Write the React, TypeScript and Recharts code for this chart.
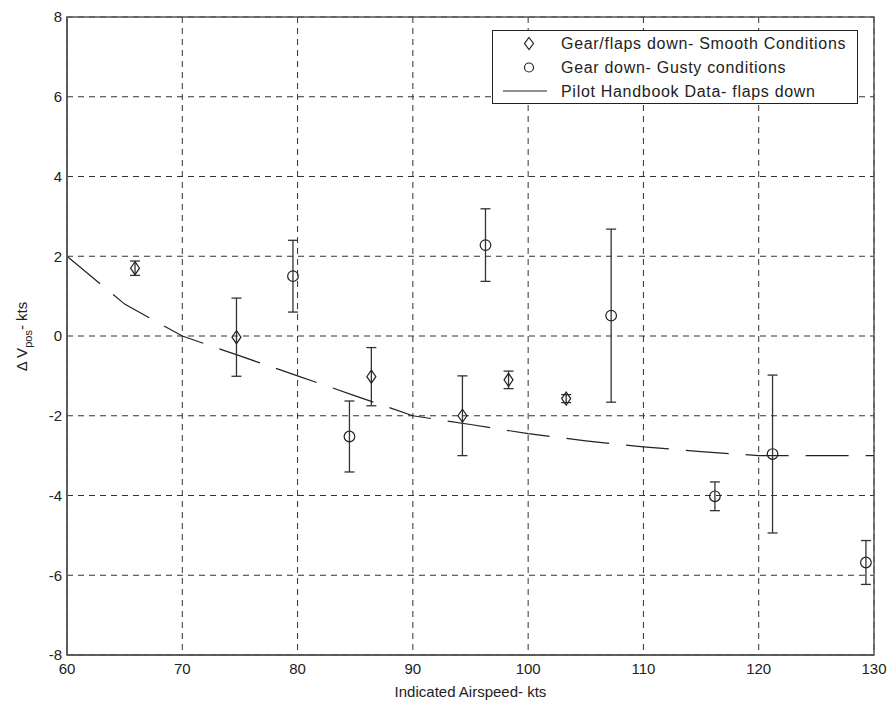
import React from "react";
import {
  ComposedChart,
  Scatter,
  Line,
  XAxis,
  YAxis,
  CartesianGrid,
  ErrorBar,
  Legend,
  ReferenceArea,
} from "recharts";

const xTicks = [60, 70, 80, 90, 100, 110, 120, 130];
const yTicks = [-8, -6, -4, -2, 0, 2, 4, 6, 8];

// gear/flaps down, smooth conditions (diamonds)
const smoothSpeed = [65.9, 74.7, 86.4, 94.3, 98.3, 103.3];
const smoothDv = [1.7, -0.03, -1.02, -2.0, -1.1, -1.57];
const smoothErr = [0.18, 0.98, 0.73, 1.0, 0.22, 0.1];

// gear down, gusty conditions (circles)
const gustySpeed = [79.6, 84.5, 96.3, 107.2, 116.2, 121.2, 129.3];
const gustyDv = [1.5, -2.52, 2.28, 0.51, -4.02, -2.96, -5.68];
const gustyErr = [0.9, 0.89, 0.91, 2.17, 0.36, 1.98, 0.55];

// pilot handbook, flaps down
const handbookSpeed = [60, 65, 70, 75, 80, 85, 90, 95, 100, 105, 110, 115, 120, 125, 130];
const handbookDv = [2, 0.8, 0, -0.5, -1, -1.5, -2, -2.22, -2.45, -2.63, -2.78, -2.9, -3, -3, -3];

const legendLabels = [
  "Gear/flaps down- Smooth Conditions",
  "Gear down- Gusty conditions",
  "Pilot Handbook Data- flaps down",
];

const FONT = "'Liberation Sans', Arial, Helvetica, sans-serif";
const INK = "#222";

const smoothData = smoothSpeed.map((x, i) => ({ x, y: smoothDv[i], err: smoothErr[i] }));
const gustyData = gustySpeed.map((x, i) => ({ x, y: gustyDv[i], err: gustyErr[i] }));
const handbookData = handbookSpeed.map((x, i) => ({ x, y: handbookDv[i] }));

const Diamond = (props: any) => {
  const { cx, cy } = props;
  return (
    <path
      d={`M${cx},${cy - 6.5} L${cx + 4.5},${cy} L${cx},${cy + 6.5} L${cx - 4.5},${cy} Z`}
      fill="none"
      stroke={INK}
      strokeWidth={1.2}
    />
  );
};

const Ring = (props: any) => {
  const { cx, cy } = props;
  return <circle cx={cx} cy={cy} r={5.3} fill="none" stroke={INK} strokeWidth={1.2} />;
};

function renderLegend() {
  const rows = [43.5, 67.5, 91];
  return (
    <svg width={366} height={74} style={{ display: "block" }}>
      <rect x={0.5} y={0.5} width={365} height={73} fill="#fff" stroke={INK} strokeWidth={1} />
      <path
        d={`M37,${rows[0] - 30 - 6} L41.5,${rows[0] - 30} L37,${rows[0] - 30 + 6} L32.5,${rows[0] - 30} Z`}
        fill="none"
        stroke={INK}
        strokeWidth={1.2}
      />
      <circle cx={37} cy={rows[1] - 30} r={4.5} fill="none" stroke={INK} strokeWidth={1.2} />
      <line x1={11} x2={55} y1={rows[2] - 30} y2={rows[2] - 30} stroke={INK} strokeWidth={1.2} />
      {legendLabels.map((t, i) => (
        <text
          key={t}
          x={69}
          y={rows[i] - 30 + 5.5}
          fontSize={16}
          letterSpacing={0.7}
          fontFamily={FONT}
          fill={INK}
        >
          {t}
        </text>
      ))}
    </svg>
  );
}

const YLabel = () => (
  <text
    transform="translate(27, 336.5) rotate(-90)"
    textAnchor="middle"
    fontSize={15}
    fontFamily={FONT}
    fill={INK}
  >
    Δ V
    <tspan dy={5} fontSize={11}>
      pos
    </tspan>
    <tspan dy={-5}>- kts</tspan>
  </text>
);

const XLabel = () => (
  <text x={470.5} y={697} textAnchor="middle" fontSize={15} fontFamily={FONT} fill={INK}>
    Indicated Airspeed- kts
  </text>
);

export default function App() {
  const tickStyle = { fill: INK, fontSize: 15, fontFamily: FONT };
  return (
    <div style={{ position: "absolute", left: 0, top: 0, background: "#fff" }}>
      <ComposedChart
        width={893}
        height={702}
        margin={{ top: 17, right: 19, bottom: 0, left: 0 }}
        style={{ fontFamily: FONT }}
      >
        <CartesianGrid stroke="#333" strokeDasharray="6 5" strokeWidth={1} />
        <XAxis
          type="number"
          dataKey="x"
          domain={[60, 130]}
          ticks={xTicks}
          interval={0}
          allowDataOverflow
          height={47}
          tickLine={false}
          tickSize={6}
          tickMargin={2}
          axisLine={{ stroke: "#555", strokeWidth: 1.5 }}
          tick={tickStyle}
          label={<XLabel />}
        />
        <YAxis
          type="number"
          domain={[-8, 8]}
          ticks={yTicks}
          interval={0}
          allowDataOverflow
          width={67}
          tickLine={false}
          tickSize={3}
          tickMargin={2}
          axisLine={{ stroke: "#555", strokeWidth: 1.5 }}
          tick={tickStyle}
          label={<YLabel />}
        />
        <ReferenceArea x1={60} x2={130} y1={-8} y2={8} fill="none" stroke="#555" strokeWidth={1.5} />
        <Line
          data={handbookData}
          dataKey="y"
          type="linear"
          stroke={INK}
          strokeWidth={1.2}
          strokeDasharray="43 17"
          dot={false}
          activeDot={false}
          isAnimationActive={false}
        />
        <Scatter data={smoothData} dataKey="y" shape={Diamond} isAnimationActive={false}>
          <ErrorBar dataKey="err" direction="y" width={5} stroke="#333" strokeWidth={1.3} />
        </Scatter>
        <Scatter data={gustyData} dataKey="y" shape={Ring} isAnimationActive={false}>
          <ErrorBar dataKey="err" direction="y" width={5} stroke="#333" strokeWidth={1.3} />
        </Scatter>
        <Legend
          layout="vertical"
          align="center"
          verticalAlign="middle"
          content={renderLegend}
          wrapperStyle={{ left: 492, top: 30, width: 366, height: 74 }}
        />
      </ComposedChart>
    </div>
  );
}
